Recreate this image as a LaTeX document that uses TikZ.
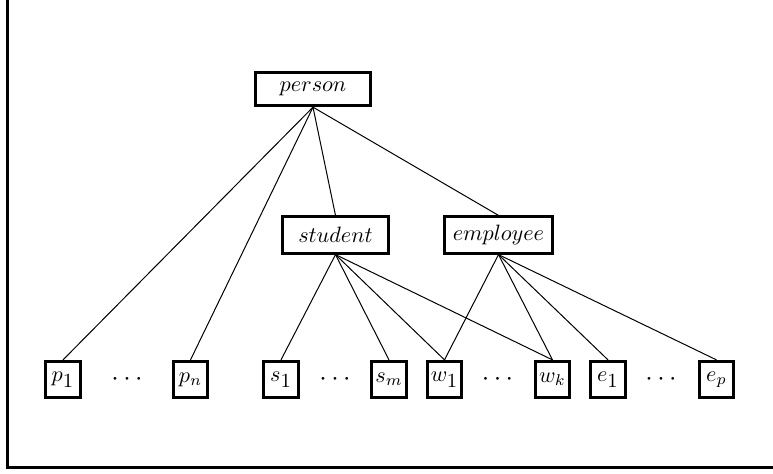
\documentclass[tikz,border=0pt]{standalone}
\newcommand{\dig}[1]{\mbox{\small #1}}
\begin{document}
\begin{tikzpicture}[x=0.45pt,y=-0.45pt,
  box/.style={draw,line width=1.35pt,inner sep=0pt,anchor=center},
  leaf/.style={box,minimum width=15.5pt,minimum height=16.3pt},
  link/.style={line width=0.45pt},
  frame/.style={line width=1.35pt},
  ell/.style={font=\large}]
  \useasboundingbox (0,0) rectangle (773,474);
  % frame on the left and bottom
  \draw[frame] (7,0) -- (7,468) -- (773,468);
  % top and middle classes
  \node[box,minimum width=51.7pt,minimum height=15pt] (person) at (313,89) {$person$};
  \node[box,minimum width=47.7pt,minimum height=16.3pt] (student) at (335.5,235) {$student$};
  \node[box,minimum width=48.2pt,minimum height=16.3pt] (employee) at (498.5,235) {$employee$};
  % leaf instances
  \node[leaf] (p1) at (63,379.5) {$p_{\dig{1}}$};
  \node[leaf] (pn) at (190.5,379.5) {$p_n$};
  \node[leaf] (s1) at (281,379.5) {$s_{\dig{1}}$};
  \node[leaf] (sm) at (389,379.5) {$s_m$};
  \node[leaf] (w1) at (444.5,379.5) {$w_{\dig{1}}$};
  \node[leaf] (wk) at (552.5,379.5) {$w_k$};
  \node[leaf] (e1) at (608,379.5) {$e_{\dig{1}}$};
  \node[leaf] (ep) at (716.5,379.5) {$e_p$};
  % ellipses between leaves
  \node[ell] (d1) at (127,379.5) {$\cdots$};
  \node[ell] (d2) at (335,379.5) {$\cdots$};
  \node[ell] (d3) at (497.5,379.5) {$\cdots$};
  \node[ell] (d4) at (661,379.5) {$\cdots$};
  % links from person
  \foreach \t in {p1,pn,student,employee}
    \draw[link] (person.south) -- (\t.north);
  % links from student
  \foreach \t in {s1,sm,w1,wk}
    \draw[link] (student.south) -- (\t.north);
  % links from employee
  \foreach \t in {w1,wk,e1,ep}
    \draw[link] (employee.south) -- (\t.north);
\end{tikzpicture}
\end{document}
